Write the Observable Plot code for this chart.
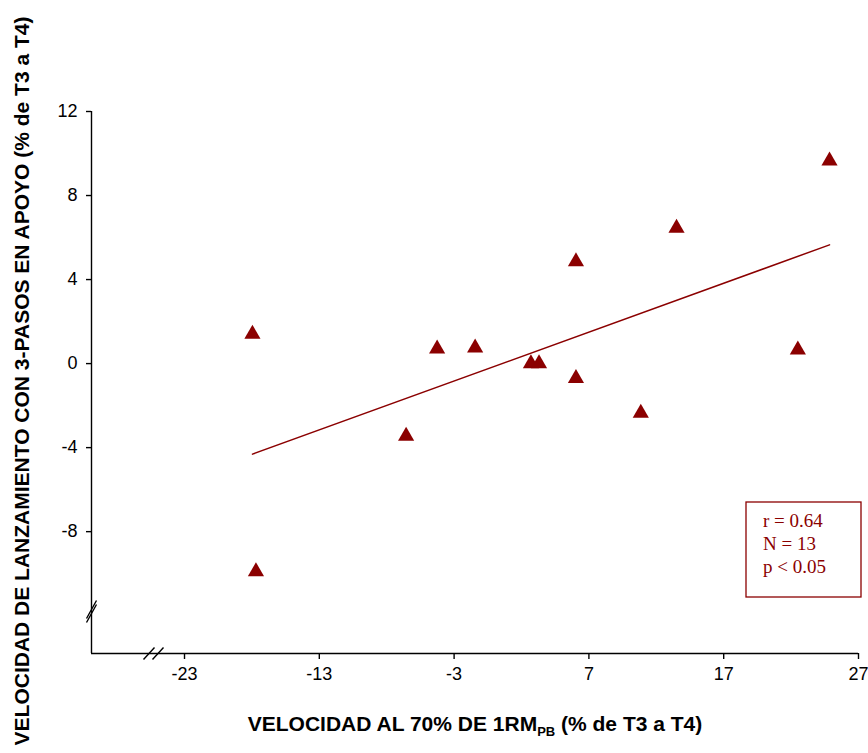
<!DOCTYPE html>
<html><head><meta charset="utf-8">
<script src="https://cdn.jsdelivr.net/npm/d3@7"></script>
<script src="https://cdn.jsdelivr.net/npm/@observablehq/plot@0.6"></script>
<style>body{margin:0;background:#fff}</style>
</head><body><div id="chart"></div>
<script>
const xValues = [-17.96, -17.7, -6.56, -4.26, -1.44, 2.7, 3.3, 6.04, 6.04, 10.85, 13.5, 22.5, 24.85];
const yValues = [1.4, -9.9, -3.45, 0.7, 0.75, 0.0, 0.0, -0.7, 4.85, -2.35, 6.45, 0.65, 9.65];
const xTicks = [-23, -13, -3, 7, 17, 27];
const yTicks = [-8, -4, 0, 4, 8, 12];
const xDomain = [-29.9, 27];
const yDomain = [-13.8, 12];
const xBreak = -25.3;
const yBreak = -11.8;
const statLines = ["r = 0.64", "N = 13", "p < 0.05"];
const xLabelParts = ["VELOCIDAD AL 70% DE 1RM", "PB", " (% de T3 a T4)"];
const yLabel = "VELOCIDAD DE LANZAMIENTO CON 3-PASOS EN APOYO (% de T3 a T4)";

const points = xValues.map((x, i) => ({x, y: yValues[i]}));
const red = "#8b0000";
const W = 868, H = 753;
const fmt = d => String(d);

const slashX = {draw(ctx) {
  for (const o of [-4.5, 4.5]) { ctx.moveTo(o - 5.5, 6); ctx.lineTo(o + 5.5, -6); }
}};
const slashY = {draw(ctx) {
  for (const o of [-2, 2]) { ctx.moveTo(-5, o + 9); ctx.lineTo(5, o - 9); }
}};

const plot = Plot.plot({
  width: W, height: H,
  marginLeft: 91, marginRight: 10, marginTop: 111, marginBottom: 100,
  style: {fontFamily: "Arial, 'Liberation Sans', sans-serif", fontSize: "18px", color: "#000", background: "#fff"},
  x: {domain: xDomain},
  y: {domain: yDomain},
  marks: [
    Plot.ruleX([xDomain[0]], {y1: yDomain[0], y2: yTicks[yTicks.length - 1], stroke: "#000", strokeWidth: 1.4}),
    Plot.ruleY([yDomain[0]], {x1: xDomain[0], x2: xDomain[1], stroke: "#000", strokeWidth: 1.4}),
    Plot.axisX(xTicks, {tickSize: 6, tickPadding: 8, tickFormat: fmt, label: null, stroke: "#000", strokeWidth: 1.4}),
    Plot.axisY(yTicks, {tickSize: 5, tickPadding: 9, tickFormat: fmt, label: null, stroke: "#000", strokeWidth: 1.4}),
    Plot.dot([{x: xBreak, y: yDomain[0]}], {x: "x", y: "y", symbol: slashX, stroke: "#000", strokeWidth: 1.4, fill: "none"}),
    Plot.dot([{x: xDomain[0], y: yBreak}], {x: "x", y: "y", symbol: slashY, stroke: "#000", strokeWidth: 1.4, fill: "none"}),
    Plot.linearRegressionY(points, {x: "x", y: "y", stroke: red, strokeWidth: 1.5, ci: 0}),
    Plot.dot(points, {x: "x", y: "y", symbol: "triangle", fill: red, r: 6})
  ]
});

const svg = d3.select(plot);
// x axis label with subscript
const xl = svg.append("text")
  .attr("x", 475).attr("y", 731)
  .attr("text-anchor", "middle")
  .attr("font-family", "Arial, 'Liberation Sans', sans-serif")
  .attr("font-weight", "bold").attr("font-size", 21).attr("fill", "#000");
xl.append("tspan").text(xLabelParts[0]);
xl.append("tspan").attr("font-size", 13).attr("dy", 5).text(xLabelParts[1]);
xl.append("tspan").attr("dy", -5).text(xLabelParts[2]);
// y axis label
svg.append("text")
  .attr("transform", "translate(29,381) rotate(-90)")
  .attr("text-anchor", "middle")
  .attr("font-family", "Arial, 'Liberation Sans', sans-serif")
  .attr("font-weight", "bold").attr("font-size", 21).attr("fill", "#000")
  .text(yLabel);
// stats box
const bx = 746, by = 502, bw = 115, bh = 95;
svg.append("rect").attr("x", bx).attr("y", by).attr("width", bw).attr("height", bh)
  .attr("fill", "#fff").attr("stroke", red).attr("stroke-width", 1.3);
statLines.forEach((s, i) => {
  svg.append("text").attr("x", bx + 17).attr("y", by + 25 + i * 23)
    .attr("text-anchor", "start")
    .attr("font-family", "'Times New Roman', 'Liberation Serif', serif")
    .attr("font-size", 19).attr("fill", red).text(s);
});
document.getElementById("chart").appendChild(plot);
</script>
</body></html>
